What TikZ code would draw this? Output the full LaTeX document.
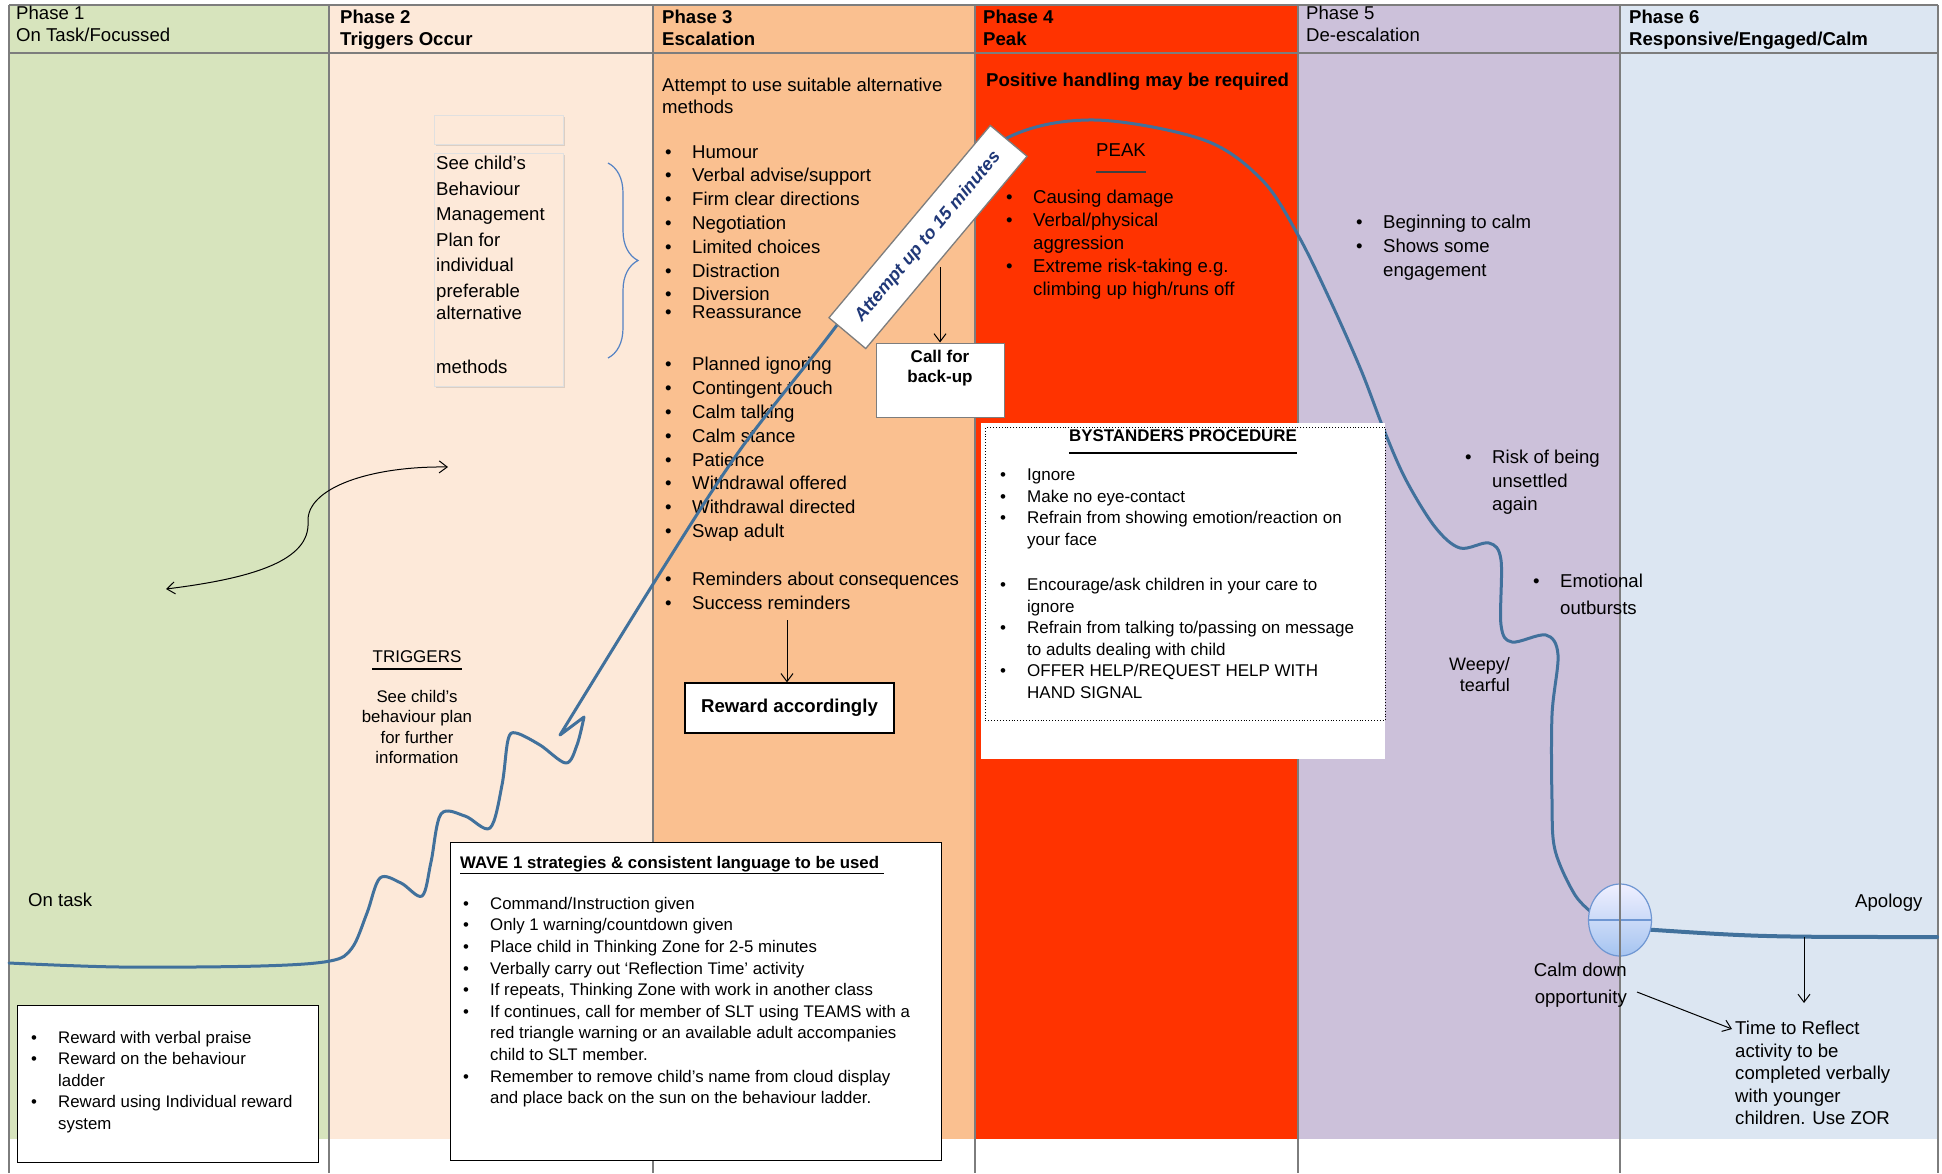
\documentclass[tikz,border=0pt]{standalone}
\usepackage{fontspec}
\setmainfont{Liberation Sans}
\usetikzlibrary{arrows.meta,decorations.pathreplacing,shapes.geometric,shadows}

\definecolor{phaseone}{RGB}{215,228,189}
\definecolor{phasetwo}{RGB}{253,233,217}
\definecolor{phasethree}{RGB}{250,192,144}
\definecolor{phasefour}{RGB}{255,51,0}
\definecolor{phasefive}{RGB}{204,193,218}
\definecolor{phasesix}{RGB}{220,230,242}
\definecolor{curveblue}{RGB}{65,113,156}
\definecolor{navy}{RGB}{32,56,120}
\definecolor{rulegray}{RGB}{125,125,125}
\definecolor{braceblue}{RGB}{84,130,196}
\definecolor{dotblue}{RGB}{110,150,210}

\newcommand{\txtbig}{\fontsize{18.6}{23.8}\selectfont}
\newcommand{\txtmid}{\fontsize{16.8}{21.5}\selectfont}
\newcommand{\dotitem}{\makebox[27pt][l]{\textbullet}}
\newcommand{\dotgap}{\hspace*{27pt}}

\tikzset{
  txt/.style={inner sep=0pt, anchor=north west, align=left},
  phasehead/.style={txt, font=\fontsize{18.6}{22}\selectfont\bfseries},
  whitebox/.style={draw=black, line width=1.3pt, fill=white, inner sep=0pt},
  arr/.style={-{Straight Barb[length=8pt,width=12pt]}, line width=1pt},
  trend/.style={draw=curveblue, line width=3pt, line join=round, line cap=round},
}

\begin{document}
\begin{tikzpicture}[x=1pt,y=-1pt]
    \useasboundingbox (0,0) rectangle (1942,1173);
    % phase columns
    \foreach \xa/\xb/\c in {9/329/phaseone,329/653/phasetwo,653/975/phasethree,975/1298/phasefour,1298/1620/phasefive,1620/1938/phasesix}
        \fill[\c] (\xa,5) rectangle (\xb,1139);
    \foreach \x in {9,329,653,975,1298,1620,1938}
        \draw[rulegray, line width=1.2pt] (\x,5) -- (\x,1173);
    \draw[rulegray, line width=1.2pt] (9,5) -- (1938,5) (9,53) -- (1938,53);

    \node[phasehead, font=\fontsize{18.6}{22}\selectfont] (hone) at (16,6) {Phase 1\\On Task/Focussed};
    \node[phasehead] (htwo) at (340,10) {Phase 2\\Triggers Occur};
    \node[phasehead] (hthree) at (662,10) {Phase 3\\Escalation};
    \node[phasehead] (hfour) at (983,10) {Phase 4\\Peak};
    \node[phasehead, font=\fontsize{18.6}{22}\selectfont] (hfive) at (1306,6) {Phase 5\\De-escalation};
    \node[phasehead] (hsix) at (1629,10) {Phase 6\\Responsive/Engaged/Calm};

    % phase 3
    \node[txt, font=\fontsize{18.6}{22}\selectfont] (tryalt) at (662,78) {Attempt to use suitable alternative\\methods};
    \node[txt, font=\txtbig] (methods) at (665,145) {\dotitem Humour\\ \dotitem Verbal advise/support\\ \dotitem Firm clear directions\\
        \dotitem Negotiation\\ \dotitem Limited choices\\ \dotitem Distraction\\ \dotitem Diversion\\[-5.8pt] \dotitem Reassurance\\[28.2pt]
        \dotitem Planned ignoring\\ \dotitem Contingent touch\\ \dotitem Calm talking\\ \dotitem Calm stance\\ \dotitem Patience\\
        \dotitem Withdrawal offered\\ \dotitem Withdrawal directed\\ \dotitem Swap adult\\[24.6pt]
        \dotitem Reminders about consequences\\ \dotitem Success reminders};

    % phase 4
    \node[txt, font=\txtbig\bfseries] (handling) at (986,73) {Positive handling may be required};
    \node[inner sep=0pt, font=\txtbig] (peak) at (1121,150) {PEAK};
    \draw[line width=2pt, black!75] ([yshift=-15pt]peak.south west) -- ([yshift=-15pt]peak.south east);
    \node[txt, font=\fontsize{18.6}{23}\selectfont] (peaklist) at (1006,190) {\dotitem Causing damage\\ \dotitem Verbal/physical\\ \dotgap aggression\\
        \dotitem Extreme risk-taking e.g.\\ \dotgap climbing up high/runs off};

    % phase 2
    \node[fill=phasetwo, draw=black!12, drop shadow={shadow xshift=1.5pt, shadow yshift=-2pt, opacity=0.25},
        minimum width=129, minimum height=29, anchor=north west] (blank) at (434,115) {};
    \node[fill=phasetwo, draw=black!12, drop shadow={shadow xshift=1.5pt, shadow yshift=-2pt, opacity=0.25},
        minimum width=129, minimum height=233, anchor=north west] (plan) at (434,153) {};
    \node[txt, font=\fontsize{18.6}{25.5}\selectfont] (plantxt) at (436,156) {See child’s\\Behaviour\\Management\\Plan for\\individual\\preferable\\[-3.5pt]
        alternative\\[28.5pt] methods};
    \draw[braceblue, line width=1.2pt, decorate, decoration={brace, amplitude=30pt}] (608,163) -- (608,358);
    \draw[{Straight Barb[length=8pt,width=12pt]}-{Straight Barb[length=8pt,width=12pt]}, line width=1pt]
        (166,589) .. controls (255,578) and (310,560) .. (308,522) .. controls (306,488) and (370,466) .. (448,467);
    \node[inner sep=0pt, font=\fontsize{17}{20}\selectfont] (trig) at (417,657) {TRIGGERS};
    \draw[line width=1.5pt] ([yshift=-6pt]trig.south west) -- ([yshift=-6pt]trig.south east);
    \node[inner sep=0pt, anchor=north, align=center, font=\fontsize{16.8}{20.5}\selectfont] (trigtxt) at (417,690)
        {See child’s\\behaviour plan\\for further\\information};

    % phase 1
    \node[inner sep=0pt, anchor=west, font=\txtbig] (ontask) at (28,900) {On task};

    % the curve
    \draw[trend] plot[smooth, tension=0.55] coordinates {(9,963) (120,967) (260,966) (330,961) (352,948) (367,913) (380,878)
        (401,883) (422,896) (431,862) (441,814) (465,816) (490,828) (502,785) (508,740) (516,733) (540,745) (566,763)
        (577,745) (584,717)} -- (560,735) -- plot[smooth, tension=0.55] coordinates {(560,735) (660,573) (740,450) (831,333)
        (930,200) (1009,137) (1095,120) (1204,140) (1262,180) (1298,235) (1330,300) (1361,370) (1384,430) (1406,480)
        (1435,527) (1460,548) (1489,543) (1501,560) (1501,625) (1512,642) (1546,635) (1558,655) (1552,715) (1552,800)
        (1555,850) (1575,895) (1595,915)};

    % boxes on top of the curve
    \node[whitebox, draw=rulegray, rotate=50, minimum width=251, minimum height=48,
        font=\fontsize{18}{20}\selectfont\bfseries\itshape, text=navy] (limit) at (928,237) {Attempt up to 15 minutes};
    \node[whitebox, draw=rulegray, line width=1pt, minimum width=128, minimum height=74] (call) at (940,380) {};
    \node[inner sep=0pt, anchor=north, align=center, font=\fontsize{17}{20}\selectfont\bfseries] (calltxt)
        at ([yshift=-7pt]call.north) {Call for\\back-up};
    \coordinate (callfrom) at (940,267);
    \draw[arr] (callfrom) -- (call.north);

    \node[whitebox, minimum width=209, minimum height=50, font=\txtbig\bfseries] (reward) at (789.5,708) {Reward accordingly};
    \coordinate (succ) at (787,620);
    \draw[arr] (succ) -- (succ |- reward.north);

    \fill[white] (981,423) rectangle (1385,759);
    \node[draw, dotted, line width=0.9pt, minimum width=400, minimum height=293, anchor=north west, inner sep=0pt] (bystand) at (985,427) {};
    \node[inner sep=0pt, font=\fontsize{16.9}{20}\selectfont\bfseries] (bytitle) at (1183,436) {BYSTANDERS PROCEDURE};
    \draw[line width=1.5pt] ([yshift=-11pt]bytitle.south west) -- ([yshift=-11pt]bytitle.south east);
    \node[txt, font=\fontsize{17}{21.5}\selectfont] (bylist) at (1000,469) {\dotitem Ignore\\ \dotitem Make no eye-contact\\
        \dotitem Refrain from showing emotion/reaction on\\ \dotgap your face\\[24pt]
        \dotitem Encourage/ask children in your care to\\ \dotgap ignore\\
        \dotitem Refrain from talking to/passing on message\\ \dotgap to adults dealing with child\\
        \dotitem OFFER HELP/REQUEST HELP WITH\\ \dotgap HAND SIGNAL};

    \node[whitebox, minimum width=301, minimum height=157, anchor=north west] (praise) at (17,1005) {};
    \node[txt, font=\txtmid] (praiselist) at (31,1031) {\dotitem Reward with verbal praise\\ \dotitem Reward on the behaviour\\ \dotgap ladder\\
        \dotitem Reward using Individual reward\\ \dotgap system};

    \node[whitebox, minimum width=491, minimum height=318, anchor=north west] (wave) at (450,842) {};
    \node[txt, font=\txtmid\bfseries] (wavetitle) at (460,856) {\underline{WAVE 1 strategies \& consistent language to be used\ }};
    \node[txt, font=\fontsize{16.8}{21.6}\selectfont] (wavelist) at (463,897) {\dotitem Command/Instruction given\\
        \dotitem Only 1 warning/countdown given\\ \dotitem Place child in Thinking Zone for 2-5 minutes\\
        \dotitem Verbally carry out ‘Reflection Time’ activity\\ \dotitem If repeats, Thinking Zone with work in another class\\
        \dotitem If continues, call for member of SLT using TEAMS with a\\ \dotgap red triangle warning or an available adult accompanies\\
        \dotgap child to SLT member.\\ \dotitem Remember to remove child’s name from cloud display\\
        \dotgap and place back on the sun on the behaviour ladder.};

    % phase 5
    \node[txt, font=\fontsize{18.6}{24}\selectfont] (calming) at (1356,215) {\dotitem Beginning to calm\\ \dotitem Shows some\\ \dotgap engagement};
    \node[txt, font=\fontsize{18.6}{23.5}\selectfont] (unsettled) at (1465,450) {\dotitem Risk of being\\ \dotgap unsettled\\ \dotgap again};
    \node[txt, font=\fontsize{18.6}{27}\selectfont] (outburst) at (1533,574) {\dotitem Emotional\\ \dotgap outbursts};
    \node[inner sep=0pt, anchor=north east, align=right, font=\fontsize{18}{21}\selectfont] (weepy) at (1510,657) {Weepy/\\tearful};

    % phase 6
    \draw[trend, line width=4pt] (1640,929) .. controls (1760,937) .. (1937,937);
    \node[ellipse, draw=dotblue, line width=1.2pt, top color=blue!6, bottom color={rgb,255:red,165;green,196;blue,240},
        minimum width=63, minimum height=72] (calmdot) at (1620,920) {};
    \draw[dotblue, line width=1.2pt] (calmdot.west) -- (calmdot.east);
    \draw[rulegray, line width=1.2pt] (calmdot.north) -- (calmdot.south);
    \node[inner sep=0pt, anchor=west, font=\txtbig] (apology) at (1855,903) {Apology};
    \node[inner sep=0pt, anchor=north east, align=right, font=\fontsize{18.6}{27}\selectfont] (calmdown) at (1627,963) {Calm down\\opportunity};
    \node[txt, font=\fontsize{18.6}{22.5}\selectfont] (reflect) at (1735,1021) {Time to Reflect\\activity to be\\completed verbally\\with younger\\children. Use ZOR};
    \coordinate (calmtail) at (1637,992);
    \coordinate (reflecthead) at (1732,1029);
    \draw[arr] (calmtail) -- (reflecthead);
    \coordinate (apotail) at (1804,937);
    \coordinate (apohead) at (1804,1003);
    \draw[arr] (apotail) -- (apohead);
\end{tikzpicture}
\end{document}
